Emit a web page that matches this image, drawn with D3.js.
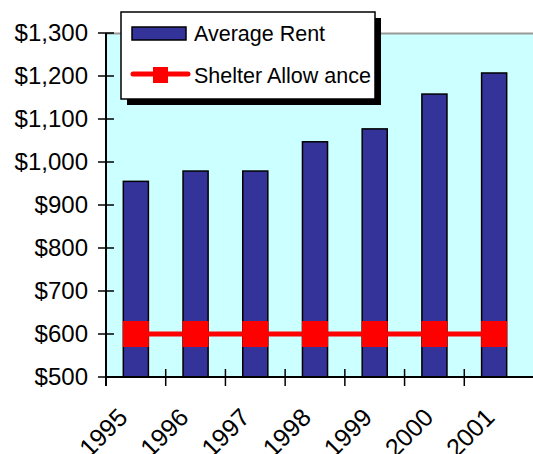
<!DOCTYPE html>
<html><head><meta charset="utf-8">
<script src="https://cdn.jsdelivr.net/npm/d3@7"></script>
<style>body{margin:0;background:#fff}svg{display:block}text{font-family:"Liberation Sans",Arial,sans-serif}</style>
</head><body><svg id="c" width="533" height="454"></svg>
<script>
const years = ["1995","1996","1997","1998","1999","2000","2001"];
const averageRent = [955, 979, 979, 1047, 1077, 1158, 1207];
const shelterAllowance = [600, 600, 600, 600, 600, 600, 600];
const yTicks = [500,600,700,800,900,1000,1100,1200,1300];
const legendLabels = ["Average Rent","Shelter Allow ance"];

const svg = d3.select("#c");
const L = 106, T = 33, B = 377, R = 524;
const x = d3.scaleBand().domain(years).range([L, R]).paddingInner(0.58).paddingOuter(0.29);
const xb = d3.scaleBand().domain(years).range([L, R]);
const xl = d3.scalePoint().domain(years).range([129, 496]);
const y = d3.scaleLinear().domain([500,1300]).range([B, T]);

svg.append("rect").attr("x",L).attr("y",T).attr("width",533-L).attr("height",B-T).attr("fill","#ccffff");
svg.append("line").attr("x1",L).attr("x2",533).attr("y1",T+0.5).attr("y2",T+0.5).attr("stroke","#999").attr("stroke-width",2);

svg.selectAll("rect.bar").data(averageRent).join("rect").attr("class","bar")
  .attr("x",(d,i)=>x(years[i])).attr("width",x.bandwidth())
  .attr("y",d=>y(d)).attr("height",d=>B-y(d))
  .attr("fill","#333399").attr("stroke","#000").attr("stroke-width",1.5);

// y axis
const ya = svg.append("g").attr("transform",`translate(${L},0)`)
  .call(d3.axisLeft(y).tickValues(yTicks).tickSize(0).tickPadding(18).tickFormat(d=>"$"+d3.format(",")(d)));
ya.select(".domain").remove();
ya.attr("font-family",null).attr("font-size",null);
ya.selectAll("text").style("font-size","24px").attr("fill","#000");
svg.selectAll("line.yt").data(yTicks).join("line").attr("class","yt")
  .attr("x1",L-8).attr("x2",L+8).attr("y1",d=>y(d)).attr("y2",d=>y(d)).attr("stroke","#000").attr("stroke-width",1.5);
svg.append("line").attr("x1",L).attr("x2",L).attr("y1",T).attr("y2",B+9).attr("stroke","#000").attr("stroke-width",2);

// x axis
svg.append("line").attr("x1",L).attr("x2",533).attr("y1",B).attr("y2",B).attr("stroke","#000").attr("stroke-width",2);
svg.selectAll("line.xt").data(years.slice(1)).join("line").attr("class","xt")
  .attr("x1",d=>xb(d)).attr("x2",d=>xb(d)).attr("y1",B-8).attr("y2",B+9).attr("stroke","#000").attr("stroke-width",1.5);
svg.selectAll("text.xl").data(years).join("text").attr("class","xl")
  .attr("transform",d=>`translate(${xl(d)},${B+42}) rotate(-45)`)
  .attr("text-anchor","end").style("font-size","25px").text(d=>d);

// line series
const line = d3.line().x((d,i)=>xb(years[i])+xb.bandwidth()/2).y(d=>y(d));
svg.append("path").datum(shelterAllowance).attr("d",line).attr("fill","none").attr("stroke","#ff0000").attr("stroke-width",5);
svg.selectAll("rect.m").data(shelterAllowance).join("rect").attr("class","m")
  .attr("x",(d,i)=>xb(years[i])+xb.bandwidth()/2-13).attr("y",d=>y(d)-13)
  .attr("width",26).attr("height",26).attr("fill","#ff0000");

// legend
const lg = svg.append("g");
lg.append("rect").attr("x",127).attr("y",18).attr("width",254).attr("height",87).attr("fill","#000");
lg.append("rect").attr("x",121).attr("y",12).attr("width",254).attr("height",87).attr("fill","#fff").attr("stroke","#000").attr("stroke-width",1.5);
lg.append("rect").attr("x",132).attr("y",27).attr("width",54).attr("height",13).attr("fill","#333399").attr("stroke","#000").attr("stroke-width",1.5);
lg.append("line").attr("x1",133).attr("x2",188).attr("y1",74).attr("y2",74).attr("stroke","#ff0000").attr("stroke-width",5).attr("stroke-linecap","round");
lg.append("rect").attr("x",153).attr("y",67).attr("width",15).attr("height",16).attr("fill","#ff0000");
lg.selectAll("text").data(legendLabels).join("text").attr("x",194).attr("y",(d,i)=>41+i*42)
  .style("font-size","21.5px").text(d=>d);
</script></body></html>
